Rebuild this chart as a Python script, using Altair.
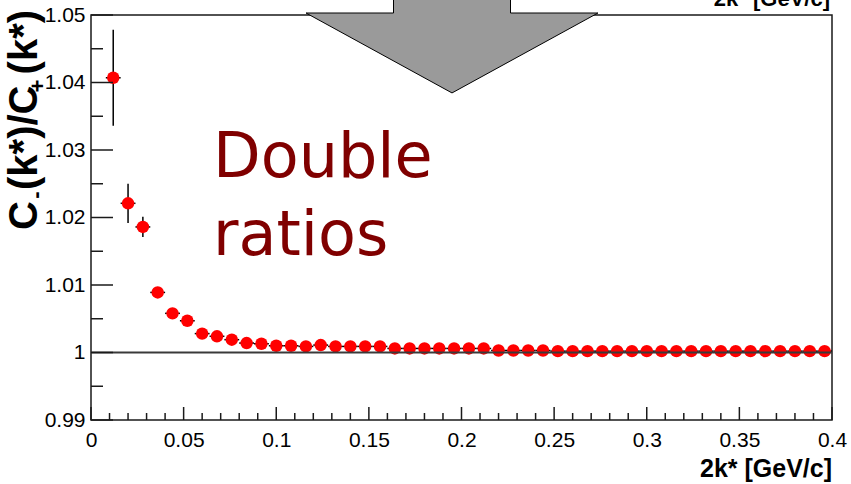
import altair as alt
import pandas as pd

# ---- data ----
k_centers = [0.012, 0.020, 0.028, 0.036, 0.044, 0.052, 0.060, 0.068, 0.076, 0.084,
             0.092, 0.100, 0.108, 0.116, 0.124, 0.132, 0.140, 0.148, 0.156, 0.164,
             0.172, 0.180, 0.188, 0.196, 0.204, 0.212, 0.220, 0.228, 0.236, 0.244,
             0.252, 0.260, 0.268, 0.276, 0.284, 0.292, 0.300, 0.308, 0.316, 0.324,
             0.332, 0.340, 0.348, 0.356, 0.364, 0.372, 0.380, 0.388, 0.396]
ratio = [1.0407, 1.0221, 1.0186, 1.0089, 1.0058, 1.0047, 1.0028, 1.0024, 1.0019, 1.0014,
         1.0013, 1.0010, 1.0010, 1.0009, 1.0011, 1.0009, 1.0009, 1.0009, 1.0009, 1.0006,
         1.0006, 1.0006, 1.0006, 1.0006, 1.0006, 1.0006, 1.0003, 1.0003, 1.0003, 1.0003,
         1.0002, 1.0002, 1.0002, 1.0002, 1.0002, 1.0002, 1.0002, 1.0002, 1.0002, 1.0002,
         1.0002, 1.0002, 1.0002, 1.0002, 1.0002, 1.0002, 1.0002, 1.0002, 1.0002]
err_ratio = [0.0071, 0.0029, 0.0015, 0.0005, 0.0004, 0.0003, 0.0002, 0.0002, 0.0002, 0.0002,
             0.0002, 0.0002, 0.0002, 0.0002, 0.0002, 0.0002, 0.0002, 0.0002, 0.0002, 0.0002,
             0.0002, 0.0002, 0.0002, 0.0002, 0.0002, 0.0002, 0.0002, 0.0002, 0.0002, 0.0002,
             0.0002, 0.0002, 0.0002, 0.0002, 0.0002, 0.0002, 0.0002, 0.0002, 0.0002, 0.0002,
             0.0002, 0.0002, 0.0002, 0.0002, 0.0002, 0.0002, 0.0002, 0.0002, 0.0002]
half_bin = 0.004

x_major = [0, 0.05, 0.1, 0.15, 0.2, 0.25, 0.3, 0.35, 0.4]
x_minor = [0.01, 0.02, 0.03, 0.04, 0.06, 0.07, 0.08, 0.09, 0.11, 0.12, 0.13, 0.14,
           0.16, 0.17, 0.18, 0.19, 0.21, 0.22, 0.23, 0.24, 0.26, 0.27, 0.28, 0.29,
           0.31, 0.32, 0.33, 0.34, 0.36, 0.37, 0.38, 0.39]
y_major = [0.99, 1.0, 1.01, 1.02, 1.03, 1.04, 1.05]
y_minor = [0.995, 1.005, 1.015, 1.025, 1.035, 1.045]

x_title = "2k* [GeV/c]"
y_title_main = "C (k*)/C (k*)"
y_sub_minus = "-"
y_sub_plus = "+"
note_lines = ["Double", "ratios"]

# ---- layout ----
W, H = 741, 405
FONT = "Liberation Sans"
AX = "#1a1a1a"

df = pd.DataFrame({"k": k_centers, "r": ratio, "e": err_ratio})
df["lo"] = df["r"] - df["e"]
df["hi"] = df["r"] + df["e"]
df["klo"] = df["k"] - half_bin
df["khi"] = df["k"] + half_bin

X_SCALE = alt.Scale(domain=[0, 0.4], nice=False, zero=False)
Y_SCALE = alt.Scale(domain=[0.99, 1.05], nice=False, zero=False)
x_axis = alt.Axis(values=x_major, labelExpr="format(datum.value, '~g')", ticks=False,
                  domain=False, grid=False, labelFont=FONT, labelFontSize=21,
                  labelColor="#000", labelPadding=9, labelFlush=False,
                  labelOverlap=False, title=None)
y_axis = alt.Axis(values=y_major, labelExpr="format(datum.value, '~g')", ticks=False,
                  domain=False, grid=False, labelFont=FONT, labelFontSize=21,
                  labelColor="#000", labelPadding=6, labelFlush=False,
                  labelOverlap=False, labelBaseline="middle", title=None)


def X(f):
    return alt.X(f, type="quantitative", scale=X_SCALE, axis=x_axis, title=None)


def Y(f):
    return alt.Y(f, type="quantitative", scale=Y_SCALE, axis=y_axis, title=None)


base = alt.Chart(df)
one = alt.Data(values=[{"a": 1}])

vbars = base.mark_rule(color="#000", strokeWidth=1.5).encode(x=X("k"), y=Y("lo"), y2="hi")
hbars = base.mark_rule(color="#000", strokeWidth=1.5).encode(x=X("klo"), x2="khi", y=Y("r"))
points = base.mark_circle(size=155, color="#ff0000", opacity=1).encode(x=X("k"), y=Y("r"))

unity = alt.Chart(pd.DataFrame({"y": [1.0], "x0": [0.0], "x1": [0.4]})).mark_rule(
    color="#3a3a3a", strokeWidth=2).encode(x=X("x0"), x2="x1", y=Y("y"))

xmaj = alt.Chart(pd.DataFrame({"v": x_major})).mark_rule(color=AX, strokeWidth=1.5).encode(
    x=X("v"), y=alt.value(H), y2=alt.value(H - 13))
xmin = alt.Chart(pd.DataFrame({"v": x_minor})).mark_rule(color=AX, strokeWidth=1.5).encode(
    x=X("v"), y=alt.value(H), y2=alt.value(H - 7))
ymaj = alt.Chart(pd.DataFrame({"v": y_major})).mark_rule(color=AX, strokeWidth=1.5).encode(
    y=Y("v"), x=alt.value(0), x2=alt.value(22))
ymin = alt.Chart(pd.DataFrame({"v": y_minor})).mark_rule(color=AX, strokeWidth=1.5).encode(
    y=Y("v"), x=alt.value(0), x2=alt.value(12))

ARROW = "M -0.39 -0.3 L 0.39 -0.3 L 0.39 0 L 0.973 0 L 0 0.533 L -0.973 0 L -0.39 0 Z"
arrow = alt.Chart(one).mark_point(shape=ARROW, size=90000, filled=True, fill="#9a9a9a",
                                  stroke="#000", strokeWidth=1, opacity=1).encode(
    x=alt.value(361), y=alt.value(-2))

note = alt.Chart(one).mark_text(text=note_lines, font="DejaVu Sans", fontSize=62,
                                color="#800000", align="left", baseline="alphabetic",
                                lineHeight=78).encode(x=alt.value(122), y=alt.value(162))

xt = alt.Chart(one).mark_text(text=x_title, font=FONT, fontSize=25, fontWeight="bold",
                              color="#000", align="right", baseline="alphabetic").encode(
    x=alt.value(W), y=alt.value(462))
xt_top = alt.Chart(one).mark_text(text=x_title, font=FONT, fontSize=22, fontWeight="bold",
                                  color="#000", align="right", baseline="alphabetic").encode(
    x=alt.value(W - 2), y=alt.value(-9))

yt = alt.Chart(one).mark_text(text=y_title_main, font=FONT, fontSize=40, fontWeight="bold",
                              color="#000", align="left", baseline="alphabetic",
                              angle=270).encode(x=alt.value(-54), y=alt.value(215))
yt_m = alt.Chart(one).mark_text(text=y_sub_minus, font=FONT, fontSize=22, fontWeight="bold",
                                color="#000", align="center", baseline="middle",
                                angle=270).encode(x=alt.value(-55), y=alt.value(180))
yt_p = alt.Chart(one).mark_text(text=y_sub_plus, font=FONT, fontSize=22, fontWeight="bold",
                                color="#000", align="center", baseline="middle",
                                angle=270).encode(x=alt.value(-53), y=alt.value(71))

chart = alt.layer(
    vbars, hbars, points, unity, xmaj, xmin, ymaj, ymin, arrow, note, xt, xt_top, yt, yt_m, yt_p
).properties(
    width=W, height=H,
    autosize=alt.AutoSizeParams(type="none"),
    padding={"left": 91, "top": 15, "right": 19, "bottom": 64},
    background="white",
).configure_view(stroke=AX, strokeWidth=1.5)

chart.save("out.html", embed_options={"renderer": "svg", "actions": False})
